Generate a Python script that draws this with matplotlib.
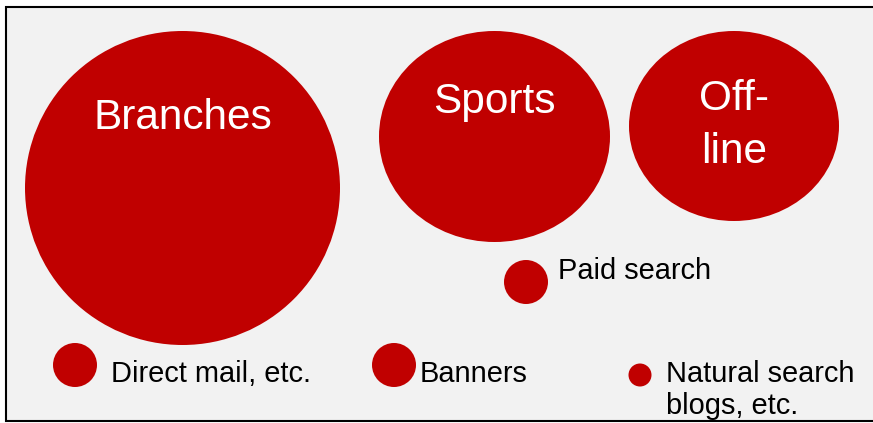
import matplotlib.pyplot as plt
from matplotlib.patches import Ellipse, Rectangle

plt.rcParams['font.family'] = ['Liberation Sans', 'DejaVu Sans']

# marketing channels, bubble size ~ share of new customers
channels = ["Branches", "Sports", "Off-\nline", "Paid search",
            "Direct mail, etc.", "Banners", "Natural search\nblogs, etc."]
bubble_x = [182.5, 494.5, 734, 526, 75, 394, 640]
bubble_y = [188, 136.5, 126, 282, 365, 365, 375]
bubble_w = [315, 231, 210, 44, 44, 44, 23]
bubble_h = [314, 211, 190, 44, 44, 44, 23]

# big bubbles carry their name inside, small ones get a label to the right
label_inside = [True, True, True, False, False, False, False]
label_x = [182.5, 494.5, 734, 558, 111, 420, 666]
label_y = [129, 113, 110.5, 279, 381.5, 381.5, 381.5]

RED = '#c00000'

fig = plt.figure(figsize=(8.73, 4.23), dpi=100)
ax = fig.add_axes([0, 0, 1, 1])
ax.set_xlim(0, 873)
ax.set_ylim(423, 0)
ax.axis('off')

ax.add_patch(Rectangle((6, 7), 880, 414, facecolor='#f2f2f2',
                       edgecolor='black', linewidth=1.5, zorder=0))

for name, x, y, w, h, inside, lx, ly in zip(channels, bubble_x, bubble_y,
                                             bubble_w, bubble_h, label_inside,
                                             label_x, label_y):
    ax.add_patch(Ellipse((x, y), w, h, facecolor=RED, edgecolor='none', zorder=1))
    if inside:
        size, step, color, ha = 30.5, 52.6, 'white', 'center'
    else:
        size, step, color, ha = 20.9, 32.5, 'black', 'left'
    for i, line in enumerate(name.split('\n')):
        ax.text(lx, ly + i * step, line, fontsize=size, color=color,
                ha=ha, va='baseline', zorder=2)

fig.savefig('out.png', dpi=100)
